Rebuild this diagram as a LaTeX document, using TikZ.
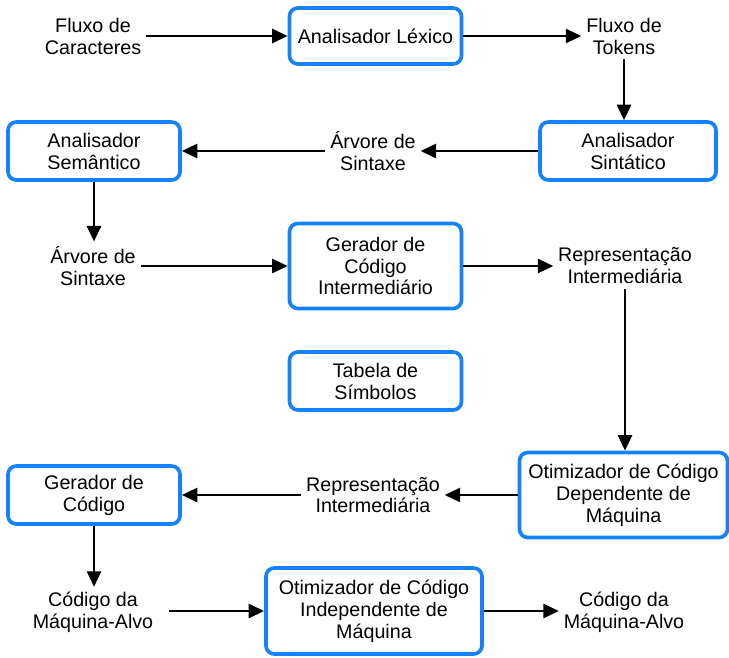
\documentclass[tikz,border=0pt]{standalone}
\usepackage{fontspec}
\setmainfont{Liberation Sans}
\usetikzlibrary{arrows.meta}

\definecolor{boxblue}{RGB}{20,130,250}

\begin{document}
\begin{tikzpicture}[x=0.025cm, y=-0.025cm,
    font=\fontsize{14}{15.6}\selectfont,
    box/.style={draw=boxblue, line width=2.6pt, rounded corners=6pt, align=center,
        minimum width=4.3cm, minimum height=1.4cm, inner sep=2pt},
    txt/.style={align=center},
    flow/.style={-{Triangle[length=11pt, width=10pt]}, line width=1.7pt}]
    \useasboundingbox (0,0) rectangle (729,657);

    % First row: lexical analysis
    \node[txt] (fluxoCar) at (93,36) {Fluxo de\\Caracteres};
    \node[box] (lexico) at (375.5,36) {Analisador Léxico};
    \node[txt] (fluxoTok) at (624,36) {Fluxo de\\Tokens};

    % Second row: syntax and semantics
    \node[box, minimum width=4.4cm, minimum height=1.45cm] (sintatico) at (628,151) {Analisador\\Sintático};
    \node[txt] (arvoreA) at (373,151) {Árvore de\\Sintaxe};
    \node[box, minimum height=1.45cm] (semantico) at (94,151) {Analisador\\Semântico};

    % Third row: intermediate code
    \node[txt] (arvoreB) at (93,266) {Árvore de\\Sintaxe};
    \node[box, minimum height=2.125cm] (gerInter) at (375.5,266) {Gerador de\\Código\\Intermediário};
    \node[txt] (reprA) at (625,266) {Representação\\Intermediária};

    % Symbol table
    \node[box, minimum height=1.45cm] (tabela) at (375.5,381) {Tabela de\\Símbolos};

    % Fourth row: machine-dependent optimisation
    \node[box, minimum width=5.2cm, minimum height=2.125cm] (otimDep) at (623.5,495) {Otimizador de Código\\Dependente de\\Máquina};
    \node[txt] (reprB) at (373,495) {Representação\\Intermediária};
    \node[box, minimum height=1.45cm] (gerCod) at (94,495) {Gerador de\\Código};

    % Last row: target code
    \node[txt] (codigoA) at (93,612) {Código da\\Máquina-Alvo};
    \node[box, minimum width=5.4cm, minimum height=2.15cm] (otimInd) at (374,611) {Otimizador de Código\\Independente de\\Máquina};
    \node[txt] (codigoB) at (624,612) {Código da\\Máquina-Alvo};

    % Connectors
    \draw[flow] (fluxoCar) -- (lexico);
    \draw[flow] (lexico) -- (fluxoTok);
    \draw[flow] (fluxoTok) -- (fluxoTok |- sintatico.north);
    \draw[flow] (sintatico) -- (arvoreA);
    \draw[flow] (arvoreA) -- (semantico);
    \draw[flow] (semantico) -- (semantico |- arvoreB.north);
    \draw[flow] (arvoreB) -- (gerInter);
    \draw[flow] (gerInter) -- (reprA);
    \draw[flow] (reprA) -- (reprA |- otimDep.north);
    \draw[flow] (otimDep) -- (reprB);
    \draw[flow] (reprB) -- (gerCod);
    \draw[flow] (gerCod) -- (gerCod |- codigoA.north);
    \draw[flow, shorten <=8pt] (codigoA.east |- otimInd) -- (otimInd);
    \draw[flow] (otimInd) -- (otimInd -| codigoB.west);

\end{tikzpicture}
\end{document}
